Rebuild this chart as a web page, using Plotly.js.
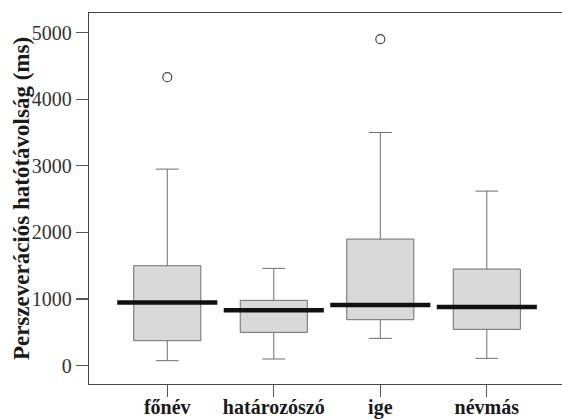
<!DOCTYPE html>
<html>
<head>
<meta charset="utf-8">
<script src="https://cdn.plot.ly/plotly-3.0.1.min.js"></script>
<style>html,body{margin:0;padding:0;background:#fff;}#chart{width:562px;height:419px;}</style>
</head>
<body>
<div id="chart"></div>
<script>
// Data
const categories = ["főnév", "határozószó", "ige", "névmás"];
const lowerWhisker = [75, 100, 410, 110];
const q1Values = [375, 500, 690, 545];
const medianValues = [950, 830, 910, 880];
const q3Values = [1500, 980, 1900, 1450];
const upperWhisker = [2950, 1460, 3500, 2620];
const outlierCategory = [0, 2];
const outlierValues = [4330, 4900];
const yTicks = [0, 1000, 2000, 3000, 4000, 5000];

const positions = categories.map((c, i) => i);
const serif = "Liberation Serif, Times New Roman, serif";

const boxTrace = {
  type: "box",
  x: positions,
  q1: q1Values,
  median: medianValues,
  q3: q3Values,
  lowerfence: lowerWhisker,
  upperfence: upperWhisker,
  width: 0.63,
  whiskerwidth: 0.34,
  fillcolor: "#d9d9d9",
  line: {color: "#6e6e6e", width: 1},
  boxpoints: false,
  hoverinfo: "skip",
  showlegend: false
};

// thick median bars (wider than boxes)
const medX = [], medY = [];
positions.forEach((p, i) => {
  medX.push(p - 0.47, p + 0.47, null);
  medY.push(medianValues[i], medianValues[i], null);
});
const medianTrace = {
  type: "scatter", mode: "lines", x: medX, y: medY,
  line: {color: "#111", width: 4.5}, hoverinfo: "skip", showlegend: false
};

const outlierTrace = {
  type: "scatter", mode: "markers",
  x: outlierCategory, y: outlierValues,
  marker: {symbol: "circle-open", size: 9, color: "#444", line: {width: 1.2}},
  hoverinfo: "skip", showlegend: false
};

const layout = {
  width: 562, height: 419,
  margin: {l: 89, r: 0, t: 13, b: 35, pad: 0},
  paper_bgcolor: "#fff", plot_bgcolor: "#fff",
  xaxis: {
    range: [-0.735, 3.706],
    tickmode: "array", tickvals: positions, ticktext: categories,
    ticks: "outside", ticklen: 12, tickcolor: "#555", tickwidth: 1.2,
    ticklabelstandoff: -7,
    showline: true, linecolor: "#444", linewidth: 1.2, mirror: true,
    showgrid: false, zeroline: false,
    tickfont: {family: serif, size: 20, color: "#1a1a1a", weight: "bold"}
  },
  yaxis: {
    range: [-275, 5293],
    tickmode: "array", tickvals: yTicks,
    ticks: "outside", ticklen: 12, tickcolor: "#555", tickwidth: 1.2,
    showline: true, linecolor: "#444", linewidth: 1.2,
    showgrid: false, zeroline: false,
    tickfont: {family: serif, size: 20, color: "#333"}
  },
  annotations: [{
    text: "<b>Perszeverációs hatótávolság (ms)</b>",
    xref: "paper", yref: "paper", x: -0.1438, y: 0.501,
    xanchor: "center", yanchor: "middle", textangle: -90, showarrow: false,
    font: {family: serif, size: 23, color: "#1a1a1a"}
  }]
};

Plotly.newPlot("chart", [boxTrace, medianTrace, outlierTrace], layout, {displayModeBar: false, staticPlot: true});
</script>
</body>
</html>
